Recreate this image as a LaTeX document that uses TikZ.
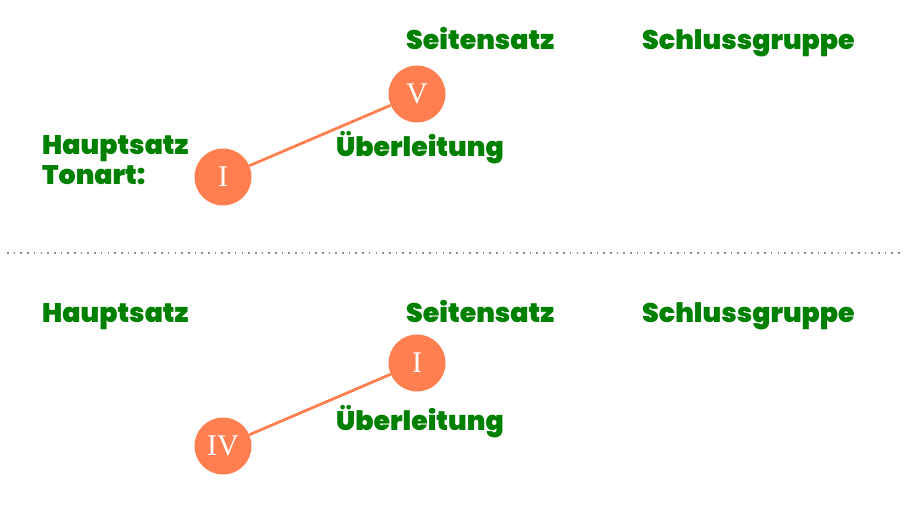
\documentclass[tikz,border=0pt]{standalone}
\usepackage{fontspec}
\setmainfont{Poppins}
\newfontfamily\lblfont{Poppins}[UprightFont=*-Black,BoldFont=*-Black]
\newfontfamily\romfont{Liberation Serif}
\begin{document}
\begin{tikzpicture}[x=1pt,y=-1pt,
  lbl/.style={anchor=base west,inner sep=0pt,text=green!50!black,font=\lblfont\fontsize{26.8}{28}\selectfont},
  deg/.style={circle,fill=coral,minimum size=57pt,inner sep=0pt,text=white,font=\romfont\fontsize{30}{30}\selectfont},
  conn/.style={draw=coral,line width=2.8pt}]
\definecolor{coral}{HTML}{FF7F50}
\useasboundingbox (0,0) rectangle (907,510);
% top
\node[lbl] (seit1) at (406,50) {Seitensatz};
\node[lbl] (schl1) at (642,50) {Schlussgruppe};
\node[lbl] (ueb1) at (336,157) {Überleitung};
\node[lbl] (haupt1) at (42,155) {Hauptsatz};
\node[lbl] (ton1) at (42,185) {Tonart:};
\node[deg] (v1) at (417,94) {V};
\node[deg] (i1) at (223,177) {I};
\draw[conn] (i1) -- (v1);
% separator
\coordinate (sepa) at (7,253);
\coordinate (sepb) at (902,253);
\draw[gray!90,line width=1.6pt,dash pattern=on 1.6pt off 5.1pt] (sepa) -- (sepb);
% bottom
\node[lbl] (haupt2) at (42,323) {Hauptsatz};
\node[lbl] (seit2) at (406,323) {Seitensatz};
\node[lbl] (schl2) at (642,323) {Schlussgruppe};
\node[lbl] (ueb2) at (336,430) {Überleitung};
\node[deg] (i2) at (417,363) {I};
\node[deg] (iv2) at (223,446) {IV};
\draw[conn] (iv2) -- (i2);
\end{tikzpicture}
\end{document}
